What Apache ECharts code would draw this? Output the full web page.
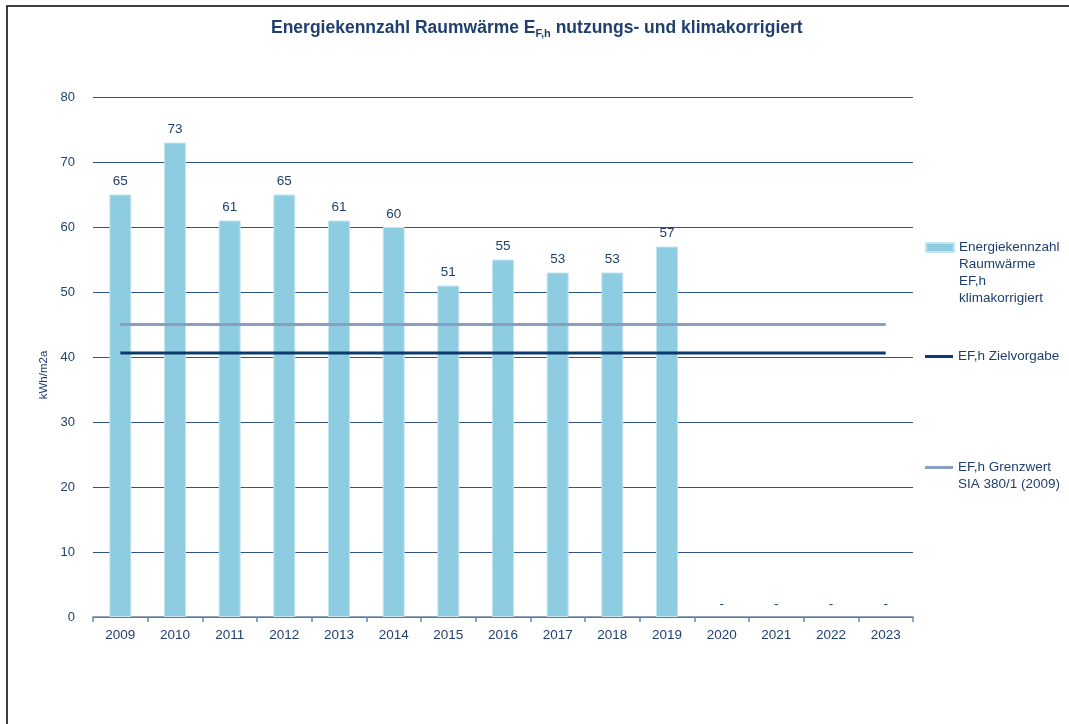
<!DOCTYPE html>
<html>
<head>
<meta charset="utf-8">
<script src="https://cdn.jsdelivr.net/npm/echarts@6/dist/echarts.min.js"></script>
<style>
  html, body { margin: 0; padding: 0; background: #ffffff; }
  #chart { width: 1069px; height: 724px; }
</style>
</head>
<body>
<div id="chart"></div>
<script>
// Jahre (Kategorien der x-Achse)
const years = ['2009', '2010', '2011', '2012', '2013', '2014', '2015', '2016',
               '2017', '2018', '2019', '2020', '2021', '2022', '2023'];

// Energiekennzahl Raumwärme EF,h klimakorrigiert (kWh/m2a); 0 = noch kein Wert
const kennzahl = [65, 73, 61, 65, 61, 60, 51, 55, 53, 53, 57, 0, 0, 0, 0];

// Zielvorgabe und Grenzwert SIA 380/1 (2009), je Jahr
const zielvorgabe = [40.6, 40.6, 40.6, 40.6, 40.6, 40.6, 40.6, 40.6,
                     40.6, 40.6, 40.6, 40.6, 40.6, 40.6, 40.6];
const grenzwert = [45, 45, 45, 45, 45, 45, 45, 45,
                   45, 45, 45, 45, 45, 45, 45];

// Beschriftung der y-Achse
const yTicks = { min: 0, max: 80, step: 10 };

const TEXT = '#1f3f6e';
const FONT = '"Liberation Sans", Arial, sans-serif';
const BAR = '#8ecde1';

const names = {
  bar: 'Energiekennzahl Raumwärme EF,h klimakorrigiert',
  ziel: 'EF,h Zielvorgabe',
  grenz: 'EF,h Grenzwert SIA 380/1 (2009)'
};
const legendLines = {};
legendLines[names.bar] = ['Energiekennzahl', 'Raumwärme', 'EF,h', 'klimakorrigiert'];
legendLines[names.ziel] = ['EF,h Zielvorgabe'];
legendLines[names.grenz] = ['EF,h Grenzwert', 'SIA 380/1 (2009)'];

// Die Legendenmarke steht auf Höhe der ersten Textzeile: dazu wird der
// Text oben mit Leerzeilen aufgefüllt, damit die erste Zeile in der Mitte liegt.
function legendText(n) {
  const lines = legendLines[n];
  const pad = [];
  for (let i = 1; i < lines.length; i++) pad.push(' ');
  return pad.concat(lines).join('\n');
}

const LH = 17;
function legendBlock(name, color, h, top) {
  return {
    orient: 'vertical',
    left: 925,
    top: top,
    padding: 0,
    itemWidth: 28,
    itemHeight: h,
    itemGap: 5,
    selectedMode: false,
    icon: 'rect',
    data: [{ name: name, itemStyle: { color: color } }],
    formatter: legendText,
    textStyle: { color: TEXT, fontFamily: FONT, fontSize: 13.5, lineHeight: LH }
  };
}

// Balkendaten; Jahre ohne Wert bekommen keinen Rand
const barData = kennzahl.map(function (v) {
  return v === 0 ? { value: v, itemStyle: { borderWidth: 0 } } : v;
});

const chart = echarts.init(document.getElementById('chart'), null, { renderer: 'canvas' });

chart.setOption({
  animation: false,
  backgroundColor: '#ffffff',
  textStyle: { fontFamily: FONT },
  title: {
    text: 'Energiekennzahl Raumwärme E{sub|F,h} nutzungs- und klimakorrigiert',
    left: 271,
    top: 17,
    padding: 0,
    textStyle: {
      fontFamily: FONT, fontSize: 17.5, fontWeight: 'bold', color: TEXT,
      lineHeight: 22,
      rich: {
        sub: {
          fontFamily: FONT, fontSize: 11, fontWeight: 'bold', color: TEXT,
          lineHeight: 22, verticalAlign: 'bottom', padding: [9, 0, 0, 0]
        }
      }
    }
  },
  graphic: [{
    type: 'rect',
    shape: { x: 7, y: 6, width: 1100, height: 800 },
    style: { fill: 'none', stroke: '#000000', lineWidth: 1.5 },
    silent: true,
    z: 100
  }],
  legend: [
    legendBlock(names.bar, BAR, 9, 188),
    legendBlock(names.ziel, '#0b3b6e', 3, 348),
    legendBlock(names.grenz, '#8a9fbf', 3, 442)
  ],
  grid: { left: 93, right: 156, top: 97, bottom: 107, containLabel: false },
  xAxis: {
    type: 'category',
    data: years,
    boundaryGap: true,
    axisLine: { lineStyle: { color: '#6d87a8', width: 1.5 } },
    axisTick: { show: true, length: 5, lineStyle: { color: '#6d87a8', width: 1.5 } },
    axisLabel: { color: TEXT, fontFamily: FONT, fontSize: 13.5, margin: 11 },
    splitLine: { show: false }
  },
  yAxis: {
    type: 'value',
    min: yTicks.min,
    max: yTicks.max,
    interval: yTicks.step,
    name: 'kWh/m2a',
    nameLocation: 'middle',
    nameGap: 41,
    nameRotate: 90,
    nameTextStyle: { color: TEXT, fontFamily: FONT, fontSize: 11.5, padding: [0, 36, 0, 0] },
    axisLine: { show: false },
    axisTick: { show: false },
    axisLabel: { color: TEXT, fontFamily: FONT, fontSize: 13, margin: 18 },
    splitLine: { lineStyle: { color: '#2e5386', width: 1 } }
  },
  series: [
    {
      name: names.bar,
      type: 'bar',
      data: barData,
      barWidth: 22,
      itemStyle: { color: BAR, borderColor: '#c4e6f0', borderWidth: 1 },
      label: {
        show: true,
        position: 'top',
        distance: 6,
        color: TEXT,
        fontFamily: FONT,
        fontSize: 13.5,
        formatter: function (p) { return p.value === 0 ? '-' : String(p.value); }
      },
      z: 2
    },
    {
      name: names.grenz,
      type: 'line',
      data: grenzwert,
      showSymbol: false,
      symbol: 'none',
      color: '#8a9fbf',
      lineStyle: { color: '#8a9fbf', width: 3 },
      z: 3
    },
    {
      name: names.ziel,
      type: 'line',
      data: zielvorgabe,
      showSymbol: false,
      symbol: 'none',
      color: '#0b3b6e',
      lineStyle: { color: '#0b3b6e', width: 3 },
      z: 4
    }
  ]
});
</script>
</body>
</html>
